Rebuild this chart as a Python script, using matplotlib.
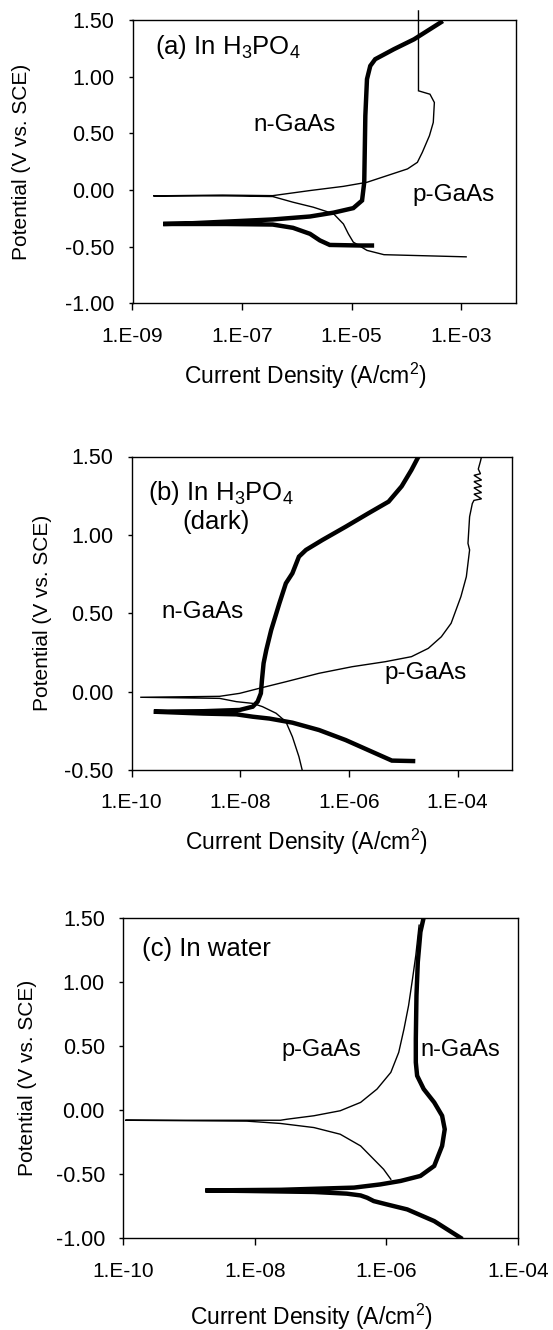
import numpy as np
import matplotlib
matplotlib.use("Agg")
import matplotlib.pyplot as plt
from matplotlib.ticker import FormatStrFormatter, NullLocator

plt.rcParams['font.family'] = ['Liberation Sans', 'DejaVu Sans']
plt.rcParams['mathtext.fontset'] = 'custom'
plt.rcParams['mathtext.rm'] = 'Liberation Sans'
plt.rcParams['mathtext.it'] = 'Liberation Sans:italic'

# === Dati (log10 della densita di corrente, potenziale in V) ===
# (a) In H3PO4
a_n_logi = [-4.63, -4.84, -5.40, -5.58, -5.76, -6.07, -6.44, -7.30, -8.44, -7.98, -6.44,
            -5.76, -5.33, -4.97, -4.81, -4.77, -4.75, -4.72, -4.66, -4.57, -4.23, -3.86, -3.37]
a_n_v = [-0.49, -0.49, -0.485, -0.445, -0.387, -0.334, -0.305, -0.30, -0.30, -0.295, -0.26,
         -0.234, -0.20, -0.16, -0.093, 0.068, 0.655, 0.978, 1.095, 1.154, 1.242, 1.33, 1.48]
a_p_logi = [-2.91, -4.41, -4.72, -4.97, -5.06, -5.15, -5.33, -5.70, -6.07, -6.44, -7.30, -8.62,
            -7.36, -6.44, -5.76, -5.15, -4.72, -4.35, -3.98, -3.80, -3.71, -3.58, -3.51, -3.49,
            -3.57, -3.78, -3.78, -3.78, -3.78]
a_p_v = [-0.59, -0.571, -0.533, -0.46, -0.387, -0.30, -0.21, -0.152, -0.108, -0.058, -0.052, -0.052,
         -0.045, -0.05, -0.005, 0.032, 0.068, 0.127, 0.186, 0.244, 0.332, 0.479, 0.596, 0.772,
         0.845, 0.875, 1.183, 1.315, 1.58]

# (b) In H3PO4 (dark)
b_n_logi = [-4.82, -5.21, -5.58, -6.06, -6.55, -7.04, -7.46, -7.77, -8.07, -8.68, -9.59, -8.68,
            -8.01, -7.77, -7.68, -7.62, -7.60, -7.57, -7.52, -7.43, -7.28, -7.16, -7.04, -6.92,
            -6.79, -6.49, -6.06, -5.64, -5.27, -5.03, -4.85, -4.72]
b_n_v = [-0.443, -0.44, -0.383, -0.309, -0.245, -0.198, -0.172, -0.16, -0.145, -0.14, -0.128, -0.125,
         -0.117, -0.096, -0.064, -0.011, 0.074, 0.181, 0.266, 0.393, 0.563, 0.691, 0.755, 0.861,
         0.904, 0.967, 1.052, 1.138, 1.212, 1.31, 1.414, 1.50]
b_p_logi = [-6.86, -6.92, -7.04, -7.16, -7.34, -7.59, -7.77, -8.07, -8.38, -9.84, -8.38, -8.01,
            -7.65, -7.16, -6.55, -5.94, -5.33, -4.85, -4.54, -4.30, -4.12, -3.94, -3.84, -3.78,
            -3.81, -3.78, -3.73, -3.70, -3.56, -3.70, -3.56, -3.70, -3.56, -3.70, -3.56, -3.70,
            -3.58, -3.62, -3.58, -3.56]
b_p_v = [-0.5, -0.415, -0.288, -0.192, -0.138, -0.096, -0.075, -0.064, -0.043, -0.036, -0.03, -0.011,
         0.021, 0.063, 0.117, 0.159, 0.191, 0.223, 0.276, 0.35, 0.436, 0.606, 0.733, 0.904,
         0.946, 1.116, 1.20, 1.22, 1.23, 1.26, 1.27, 1.30, 1.31, 1.34, 1.35, 1.38,
         1.39, 1.42, 1.47, 1.50]

# (c) In water
c_n_logi = [-4.87, -5.27, -5.68, -5.99, -6.19, -6.29, -6.39, -6.60, -7.10, -8.12, -8.75, -7.60,
            -6.49, -6.09, -5.78, -5.48, -5.27, -5.15, -5.11, -5.15, -5.27, -5.43, -5.53, -5.55,
            -5.55, -5.54, -5.52, -5.48, -5.43]
c_n_v = [-0.996, -0.866, -0.775, -0.736, -0.71, -0.684, -0.666, -0.652, -0.639, -0.631, -0.627, -0.622,
         -0.605, -0.58, -0.553, -0.514, -0.436, -0.28, -0.15, -0.045, 0.059, 0.163, 0.267, 0.371,
         0.553, 0.892, 1.152, 1.387, 1.50]
c_p_logi = [-5.93, -6.04, -6.19, -6.39, -6.70, -7.10, -7.61, -8.12, -9.97, -7.61, -7.51, -7.10,
            -6.70, -6.39, -6.14, -5.93, -5.81, -5.73, -5.66, -5.60, -5.55, -5.50]
c_p_v = [-0.54, -0.462, -0.384, -0.28, -0.189, -0.137, -0.105, -0.087, -0.08, -0.08, -0.072, -0.045,
         -0.006, 0.059, 0.163, 0.293, 0.449, 0.631, 0.814, 1.022, 1.205, 1.44]

# assi
a_xticks = [1e-9, 1e-7, 1e-5, 1e-3]
a_xlabels = ["1.E-09", "1.E-07", "1.E-05", "1.E-03"]
bc_xticks = [1e-10, 1e-8, 1e-6, 1e-4]
bc_xlabels = ["1.E-10", "1.E-08", "1.E-06", "1.E-04"]
a_yticks = [-1.0, -0.5, 0.0, 0.5, 1.0, 1.5]
b_yticks = [-0.5, 0.0, 0.5, 1.0, 1.5]

XLABEL = "Current Density (A/cm$^2$)"
YLABEL = "Potential (V vs. SCE)"

fig = plt.figure(figsize=(5.53, 13.3), dpi=100)


def setup_axis(ax, xlim, ylim, xticks, xlabels, yticks, ylab_x, xlab_xy):
    ax.set_xscale('log')
    ax.set_xlim(*xlim)
    ax.set_ylim(*ylim)
    ax.set_xticks(xticks)
    ax.set_xticklabels(xlabels)
    ax.xaxis.set_minor_locator(NullLocator())
    ax.set_yticks(yticks)
    ax.yaxis.set_major_formatter(FormatStrFormatter('%.2f'))
    ax.tick_params(axis='x', direction='out', length=4.8, width=1.0, labelsize=15, pad=12)
    ax.tick_params(axis='y', direction='out', length=3.2, width=1.0, labelsize=15.5, pad=10)
    for s in ax.spines.values():
        s.set_linewidth(1.0)
    ax.set_xlabel(XLABEL, fontsize=16.5)
    ax.set_ylabel(YLABEL, fontsize=15)
    ax.xaxis.set_label_coords(*xlab_xy)
    ax.xaxis.label.set_va('center')
    ax.yaxis.set_label_coords(ylab_x, 0.5)
    ax.yaxis.label.set_va('center')


def draw(ax, logi, v, lw, clip=True):
    ax.plot(np.power(10.0, logi), v, color='black', lw=lw, solid_joinstyle='miter', clip_on=clip)


# === (a) ===
ax1 = fig.add_axes([132.5 / 553, 1 - 303.3 / 1330, 383.5 / 553, 283.3 / 1330])
draw(ax1, a_p_logi, a_p_v, 1.0, clip=False)
draw(ax1, a_n_logi, a_n_v, 3.2)
setup_axis(ax1, (1e-9, 1e-2), (-1.0, 1.5), a_xticks, a_xlabels, a_yticks, -0.29, (0.452, -0.258))
ax1.text(10 ** -8.59, 1.26, "(a) In H$_3$PO$_4$", fontsize=18.5, ha='left', va='center')
ax1.text(10 ** -6.05, 0.57, "n-GaAs", fontsize=17.5, ha='center', va='center')
ax1.text(10 ** -3.14, -0.045, "p-GaAs", fontsize=17.5, ha='center', va='center')

# === (b) ===
ax2 = fig.add_axes([131.5 / 553, 1 - 770 / 1330, 380.5 / 553, 313.5 / 1330])
draw(ax2, b_p_logi, b_p_v, 1.0)
draw(ax2, b_n_logi, b_n_v, 3.2)
setup_axis(ax2, (1e-10, 1e-3), (-0.5, 1.5), bc_xticks, bc_xlabels, b_yticks, -0.235, (0.459, -0.23))
ax2.text(10 ** -9.70, 1.267, "(b) In H$_3$PO$_4$", fontsize=18.5, ha='left', va='center')
ax2.text(10 ** -8.44, 1.082, "(dark)", fontsize=18.5, ha='center', va='center')
ax2.text(10 ** -8.70, 0.508, "n-GaAs", fontsize=17.5, ha='center', va='center')
ax2.text(10 ** -4.59, 0.119, "p-GaAs", fontsize=17.5, ha='center', va='center')

# === (c) ===
ax3 = fig.add_axes([123.3 / 553, 1 - 1238.3 / 1330, 394.4 / 553, 320.8 / 1330])
draw(ax3, c_p_logi, c_p_v, 1.0)
draw(ax3, c_n_logi, c_n_v, 3.2)
setup_axis(ax3, (1e-10, 1e-4), (-1.0, 1.5), bc_xticks, bc_xlabels, a_yticks, -0.244, (0.476, -0.246))
ax3.text(10 ** -9.72, 1.254, "(c) In water", fontsize=18.5, ha='left', va='center')
ax3.text(10 ** -6.99, 0.467, "p-GaAs", fontsize=17, ha='center', va='center')
ax3.text(10 ** -4.87, 0.467, "n-GaAs", fontsize=17, ha='center', va='center')

fig.savefig("out.png", dpi=100)
